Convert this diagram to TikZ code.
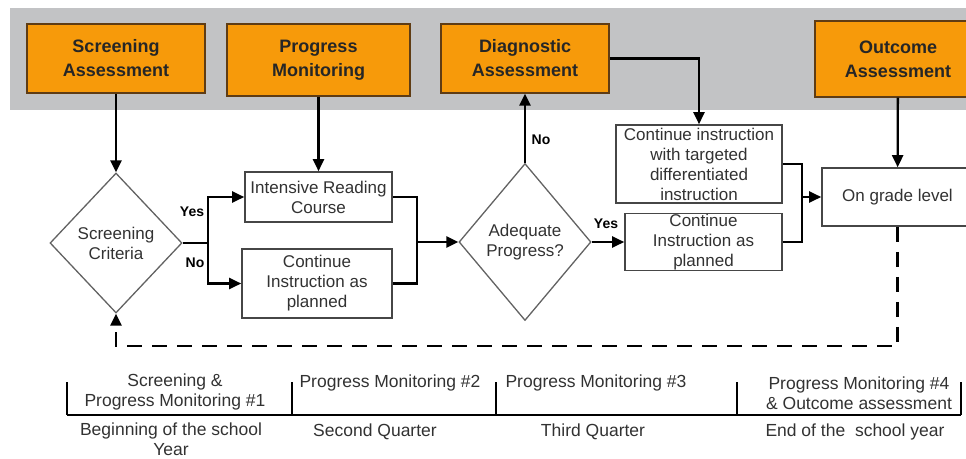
\documentclass[tikz,border=0pt]{standalone}
\usepackage{fontspec}
\setmainfont{Liberation Sans}
\usetikzlibrary{shapes.geometric,arrows.meta}
\definecolor{bandgray}{RGB}{194,195,197}
\definecolor{assessorange}{RGB}{247,154,10}
\definecolor{stageedge}{RGB}{95,60,20}
\definecolor{boxedge}{RGB}{70,70,70}
\definecolor{textgray}{RGB}{50,50,50}

\begin{document}
\begin{tikzpicture}[
        x=1pt, y=-1pt,
        every node/.style={textgray},
        stage/.style={draw=stageedge, line width=1.3pt, fill=assessorange,
            text=black!85, align=center, font=\fontsize{18}{24}\selectfont\bfseries},
        flowbox/.style={draw=boxedge, line width=1.6pt, fill=white, inner sep=0pt,
            align=center, font=\fontsize{17}{20}\selectfont},
        decision/.style={diamond, draw=boxedge!85, line width=1.3pt, inner sep=0pt,
            align=center, font=\fontsize{17}{20}\selectfont},
        flow/.style={line width=2.3pt, -{Triangle[length=12pt,width=11pt]}},
        answer/.style={text=black, font=\fontsize{14}{16}\selectfont\bfseries},
        period/.style={align=center, font=\fontsize{17.5}{19.5}\selectfont}
    ]
    \useasboundingbox (0,0) rectangle (966,458);
    \clip (0,0) rectangle (966,458);

    % assessment band
    \fill[bandgray] (10,8) rectangle (966,110);
    \node[stage, minimum width=178pt, minimum height=69pt] (screen) at (116,58.5) {Screening\\Assessment};
    \node[stage, minimum width=183pt, minimum height=72pt] (monitor) at (318.5,60) {Progress\\Monitoring};
    \node[stage, minimum width=168pt, minimum height=69pt] (diagnose) at (525,58.5) {Diagnostic\\Assessment};
    \node[stage, minimum width=166pt, minimum height=76pt] (outcome) at (898,59) {Outcome\\Assessment};

    % flow
    \node[decision, minimum width=132pt, minimum height=140pt] (criteria) at (116,243) {Screening\\Criteria};
    \node[flowbox, minimum width=147pt, minimum height=50pt] (intensive) at (318.5,197) {Intensive Reading\\Course};
    \node[flowbox, minimum width=150pt, minimum height=69pt] (asplanned) at (317,283.5) {Continue\\Instruction as\\planned};
    \node[decision, minimum width=132pt, minimum height=157pt] (adequate) at (525,242) {Adequate\\Progress?};
    \node[flowbox, minimum width=166pt, minimum height=78pt] (targeted) at (699,164) {Continue instruction\\with targeted\\differentiated\\instruction};
    \node[flowbox, minimum width=157pt, minimum height=57pt] (keepplan) at (703.5,242) {Continue\\Instruction as\\planned};
    \node[flowbox, minimum width=151pt, minimum height=58pt] (gradelevel) at (897.5,197) {On grade level};

    \coordinate (split) at (208,243);
    \coordinate (merge) at (417,242);
    \coordinate (join) at (802,197);
    \coordinate (loop) at (116,346);

    \draw[flow] (screen) -- (criteria);
    \draw[flow] (monitor) -- (intensive);
    \draw[line width=2.3pt] (criteria.east) -- (split);
    \draw[flow] (split) |- (intensive.west);
    \draw[flow] (split) |- (asplanned.west);
    \draw[line width=2.3pt] (intensive.east) -| (merge);
    \draw[line width=2.3pt] (asplanned.east) -| (merge);
    \draw[flow] (merge) -- (adequate.west);
    \draw[flow] (adequate) -- (diagnose);
    \draw[flow] (diagnose.east) -| (targeted.north);
    \draw[flow] (adequate.east) -- (keepplan.west);
    \draw[line width=2.3pt] (targeted.east) -| (join);
    \draw[line width=2.3pt] (keepplan.east) -| (join);
    \draw[flow] (join) -- (gradelevel.west);
    \draw[flow] (outcome) -- (gradelevel);
    \draw[flow, dash pattern=on 15pt off 10pt] (gradelevel.south) |- (loop) -- (criteria.south);

    \node[answer] (yes1) at (192,212) {Yes};
    \node[answer] (no1) at (195,263) {No};
    \node[answer] (no2) at (541,140) {No};
    \node[answer] (yes2) at (606,224) {Yes};

    % school year
    \draw[line width=1.6pt] (67,415) -- (961,415);
    \foreach \x in {67,292,496,737,961}
        \draw[line width=1.3pt] (\x,382) -- (\x,415);
    \node[period] (p1) at (175,392) {Screening \&\\Progress Monitoring \#1};
    \node[period] (p2) at (390,383) {Progress Monitoring \#2};
    \node[period] (p3) at (596,383) {Progress Monitoring \#3};
    \node[period] (p4) at (859,393) {Progress Monitoring \#4\\\& Outcome assessment};
    \node[period] (q1) at (171,439) {Beginning of the school\\Year};
    \node[period] (q2) at (375,432) {Second Quarter};
    \node[period] (q3) at (593,432) {Third Quarter};
    \node[period] (q4) at (855,432) {End of the\ \ school year};
\end{tikzpicture}
\end{document}
